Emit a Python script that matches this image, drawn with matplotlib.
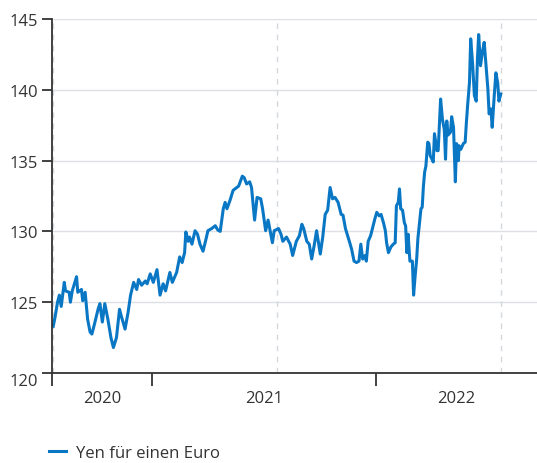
import matplotlib
matplotlib.use("Agg")
import matplotlib.pyplot as plt
import matplotlib.dates as mdates
import pandas as pd

plt.rcParams["font.family"] = ["Open Sans", "DejaVu Sans"]

# Yen für einen Euro
dates = [
    "2020-07-24", "2020-07-27", "2020-07-31", "2020-08-03", "2020-08-06", "2020-08-11",
    "2020-08-13", "2020-08-19", "2020-08-21", "2020-08-24", "2020-08-31", "2020-09-02",
    "2020-09-08", "2020-09-10", "2020-09-14", "2020-09-18", "2020-09-22", "2020-09-25",
    "2020-09-30", "2020-10-05", "2020-10-08", "2020-10-12", "2020-10-16", "2020-10-21",
    "2020-10-26", "2020-10-30", "2020-11-04", "2020-11-09", "2020-11-12", "2020-11-18",
    "2020-11-23", "2020-11-27", "2020-12-02", "2020-12-07", "2020-12-10", "2020-12-15",
    "2020-12-21", "2020-12-24", "2020-12-29", "2021-01-03", "2021-01-09", "2021-01-14",
    "2021-01-19", "2021-01-23", "2021-01-30", "2021-02-03", "2021-02-10", "2021-02-15",
    "2021-02-19", "2021-02-23", "2021-02-25", "2021-03-01", "2021-03-03", "2021-03-07",
    "2021-03-12", "2021-03-16", "2021-03-20", "2021-03-25", "2021-03-29", "2021-04-02",
    "2021-04-08", "2021-04-14", "2021-04-18", "2021-04-22", "2021-04-27", "2021-04-30",
    "2021-05-03", "2021-05-08", "2021-05-13", "2021-05-19", "2021-05-22", "2021-05-28",
    "2021-05-31", "2021-06-04", "2021-06-09", "2021-06-12", "2021-06-17", "2021-06-21",
    "2021-06-27", "2021-06-30", "2021-07-05", "2021-07-09", "2021-07-16", "2021-07-19",
    "2021-07-26", "2021-07-30", "2021-08-02", "2021-08-08", "2021-08-14", "2021-08-18",
    "2021-08-24", "2021-08-29", "2021-09-02", "2021-09-05", "2021-09-10", "2021-09-14",
    "2021-09-18", "2021-09-22", "2021-09-26", "2021-10-02", "2021-10-06", "2021-10-10",
    "2021-10-14", "2021-10-18", "2021-10-22", "2021-10-26", "2021-10-31", "2021-11-05",
    "2021-11-08", "2021-11-12", "2021-11-17", "2021-11-19", "2021-11-22", "2021-11-26",
    "2021-11-30", "2021-12-04", "2021-12-07", "2021-12-10", "2021-12-14", "2021-12-16",
    "2021-12-19", "2021-12-23", "2021-12-27", "2021-12-30", "2022-01-02", "2022-01-06",
    "2022-01-09", "2022-01-13", "2022-01-16", "2022-01-18", "2022-01-21", "2022-01-25",
    "2022-01-29", "2022-02-01", "2022-02-03", "2022-02-06", "2022-02-08", "2022-02-10",
    "2022-02-13", "2022-02-16", "2022-02-18", "2022-02-20", "2022-02-22", "2022-02-25",
    "2022-03-01", "2022-03-03", "2022-03-05", "2022-03-08", "2022-03-10", "2022-03-15",
    "2022-03-17", "2022-03-19", "2022-03-21", "2022-03-23", "2022-03-26", "2022-03-28",
    "2022-03-30", "2022-04-02", "2022-04-04", "2022-04-06", "2022-04-10", "2022-04-12",
    "2022-04-16", "2022-04-19", "2022-04-22", "2022-04-24", "2022-04-26", "2022-04-28",
    "2022-05-02", "2022-05-04", "2022-05-07", "2022-05-10", "2022-05-12", "2022-05-15",
    "2022-05-16", "2022-05-19", "2022-05-23", "2022-05-26", "2022-05-28", "2022-05-30",
    "2022-06-02", "2022-06-04", "2022-06-07", "2022-06-10", "2022-06-13", "2022-06-15",
    "2022-06-17", "2022-06-20", "2022-06-23", "2022-06-26", "2022-06-29", "2022-07-02",
    "2022-07-04", "2022-07-07", "2022-07-09", "2022-07-12", "2022-07-15", "2022-07-18",
    "2022-07-20", "2022-07-23",
]
yen = [
    123.3, 123.95, 125.0, 125.5, 124.7, 126.4,
    125.8, 125.7, 125.0, 125.8, 126.8, 125.7,
    125.9, 125.1, 125.7, 123.8, 122.9, 122.75,
    123.6, 124.5, 124.9, 123.6, 124.9, 123.8,
    122.5, 121.8, 122.5, 124.5, 124.0, 123.1,
    124.3, 125.5, 126.4, 125.9, 126.6, 126.2,
    126.5, 126.3, 127.0, 126.4, 127.3, 125.5,
    126.3, 125.8, 127.1, 126.4, 127.1, 128.2,
    127.8, 128.5, 129.96, 129.3, 129.6, 129.1,
    130.05, 129.8, 129.1, 128.6, 129.3, 130.05,
    130.2, 130.4, 130.1, 130.0, 131.6, 132.05,
    131.6, 132.2, 132.9, 133.1, 133.2, 133.9,
    133.8, 133.35, 133.5, 133.1, 130.8, 132.4,
    132.3, 131.6, 130.05, 130.8, 129.2, 130.05,
    130.2, 129.8, 129.3, 129.6, 129.1, 128.3,
    129.3, 129.7, 130.5, 130.2, 129.3, 129.1,
    128.05, 129.0, 130.05, 128.4, 129.6, 131.2,
    131.5, 133.1, 132.3, 132.4, 132.05, 131.2,
    131.15, 130.2, 129.5, 129.2, 128.75, 127.9,
    127.8, 127.9, 129.1, 128.05, 128.3, 127.9,
    129.3, 129.7, 130.4, 130.9, 131.35, 131.1,
    131.2, 130.6, 130.05, 129.2, 128.5, 128.9,
    129.1, 129.2, 131.8, 132.05, 133.0, 131.6,
    131.5, 130.6, 130.4, 128.5, 129.8, 127.9,
    127.9, 125.5, 126.6, 128.05, 129.5, 131.6,
    131.7, 133.2, 134.2, 134.6, 136.3, 136.2,
    135.35, 135.1, 134.9, 136.9, 135.7, 135.7,
    139.35, 137.9, 137.2, 135.1, 137.8, 136.8,
    137.0, 138.1, 137.35, 133.5, 136.2, 135.0,
    136.05, 135.8, 136.2, 136.3, 137.7, 138.9,
    140.5, 143.6, 141.9, 139.6, 139.2, 142.2,
    143.9, 141.7, 142.65, 143.35, 141.7, 140.05,
    138.3, 138.65, 137.35, 139.35, 141.2, 140.5,
    139.2, 139.7,
]
year_labels = ["2020", "2021", "2022"]
year_starts = ["2021-01-01", "2022-01-01"]
marker_dates = ["2020-07-24", "2021-07-24", "2022-07-23"]
y_ticks = [120, 125, 130, 135, 140, 145]

blue = "#0a77c5"
dark = "#333333"
grid_col = "#dde0e4"

x = pd.to_datetime(dates)
x_lo = pd.Timestamp("2020-07-22")
x_hi = pd.Timestamp("2022-09-20")

fig = plt.figure(figsize=(5.37, 4.64), dpi=100)
ax = fig.add_axes([52 / 537, 90 / 464, 485 / 537, 354 / 464])

for v in y_ticks[1:]:
    ax.axhline(v, color=grid_col, lw=1.0, zorder=0)
for d in marker_dates:
    ax.axvline(pd.Timestamp(d), color="#d4d8dd", lw=1.0, ls=(0, (4, 4)), zorder=0)

ax.plot(x, yen, color=blue, lw=2.2, solid_joinstyle="round", label="Yen für einen Euro")

ax.set_ylim(120, 145)
ax.set_xlim(x_lo, x_hi)

for s in ["top", "right"]:
    ax.spines[s].set_visible(False)
for s in ["left", "bottom"]:
    ax.spines[s].set_color(dark)
    ax.spines[s].set_linewidth(1.3)

ax.set_yticks(y_ticks)
ax.set_yticklabels([str(v) for v in y_ticks])
ax.tick_params(axis="y", length=7, width=1.3, color=dark, labelsize=12,
               labelcolor=dark, pad=3)
# lowest label sits below the axis line
lab120 = ax.get_yticklabels()[0]
lab120.set_verticalalignment("top")
lab120.set_y(119.75)

# year boundaries as ticks, year names centred between them
bounds = [x_lo] + [pd.Timestamp(d) for d in year_starts] + [x_hi]
ax.set_xticks([mdates.date2num(b) for b in bounds[:-1]])
ax.set_xticklabels([])
ax.tick_params(axis="x", which="major", length=9, width=1.3, color=dark)
mids = [mdates.date2num(bounds[i]) + (mdates.date2num(bounds[i + 1]) - mdates.date2num(bounds[i])) / 2
        for i in range(3)]
ax.set_xticks(mids, minor=True)
ax.set_xticklabels(year_labels, minor=True)
ax.tick_params(axis="x", which="minor", length=0, labelsize=12, labelcolor=dark, pad=12)

fig.legend(loc="lower left", bbox_to_anchor=(49 / 537, 0.004), frameon=False,
           fontsize=12, handlelength=1.0, handletextpad=0.6, labelcolor=dark,
           borderpad=0, borderaxespad=0)

fig.savefig("out.png", dpi=100)
